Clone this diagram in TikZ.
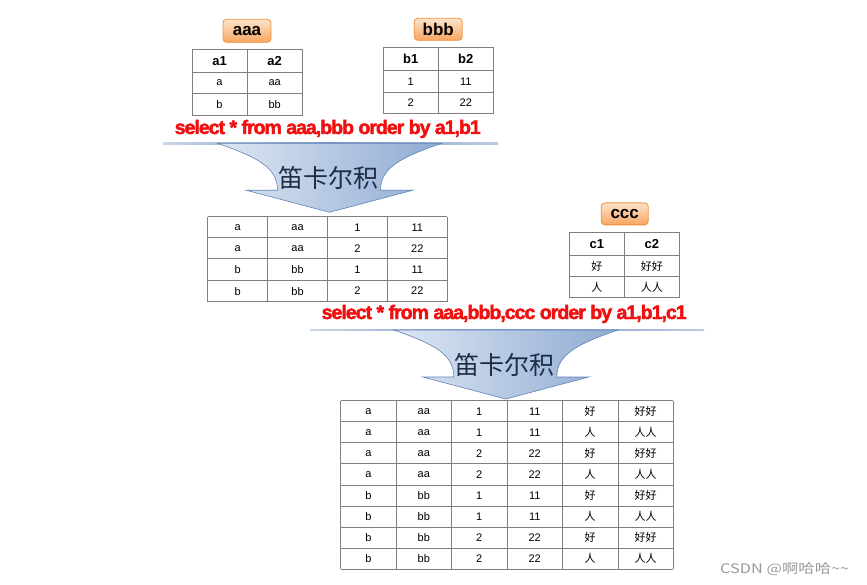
\documentclass[tikz,border=0pt]{standalone}
\usepackage{fontspec}
\setmainfont{Liberation Sans}
\newfontfamily\cjk{Noto Sans CJK SC}
\newfontfamily\sqlfont[FakeBold=2.2, LetterSpace=-5]{Liberation Sans Bold}
\definecolor{tabgray}{HTML}{7F7F7F}
\definecolor{lblborder}{HTML}{F0933F}
\definecolor{lbltop}{HTML}{FDE3CB}
\definecolor{lblbot}{HTML}{F8A660}
\definecolor{arrL}{HTML}{DCE6F2}
\definecolor{arrR}{HTML}{8FABD2}
\definecolor{arrline}{HTML}{5F84B8}
\definecolor{sepline}{HTML}{7A98C4}
\definecolor{carttext}{HTML}{1E2C48}
\definecolor{sqlred}{HTML}{F01010}
\definecolor{wmgray}{HTML}{9A9A9A}
\tikzset{
  grid line/.style={draw=tabgray, line width=0.9pt},
  lbl/.style={draw=lblborder, line width=0.8pt, rounded corners=3.5pt,
    top color=lbltop, bottom color=lblbot, inner sep=0pt,
    font=\fontsize{17}{19}\selectfont\bfseries},
  hd/.style={font=\fontsize{13}{15}\selectfont\bfseries, inner sep=0pt},
  cellt/.style={font=\fontsize{11}{13}\selectfont, inner sep=0pt},
  sql/.style={text=sqlred, inner sep=0pt, anchor=base},
  cart/.style={text=carttext, font=\fontsize{25}{27}\selectfont\cjk, inner sep=0pt},
  arrowfill/.style={left color=arrL, right color=arrR, draw=arrline, line width=0.6pt},
}
\newcommand{\cartarrow}[3]{%
  \path[arrowfill] (#2-112,#3) .. controls (#2-72,#3+14) and (#2-52,#3+24) .. (#2-52,#3+47)
    -- (#2-83,#3+47) -- (#2,#3+69) -- (#2+83,#3+47) -- (#2+51,#3+47)
    .. controls (#2+51,#3+24) and (#2+72,#3+14) .. (#2+112,#3) -- cycle;
  \node[cart] (#1) at (#2-1,#3+35) {笛卡尔积};
}
\begin{document}
\begin{tikzpicture}[x=1pt,y=-1pt]
\useasboundingbox[fill=white] (0,0) rectangle (867,585);

% ---------- table aaa ----------
\node[lbl, minimum width=48pt, minimum height=23pt] (aaa) at (247,30.8) {aaa};
\draw[grid line] (192,49.3) rectangle (302.5,115.3);
\draw[grid line] (247,49.3) -- (247,115.3);
\draw[grid line] (192,72.3) -- (302.5,72.3);
\draw[grid line] (192,93.8) -- (302.5,93.8);
\node[hd] (aaa-h1) at (219.5,61) {a1};
\node[hd] (aaa-h2) at (274.7,61) {a2};
\node[cellt] (aaa-11) at (219.5,83) {a};
\node[cellt] (aaa-12) at (274.7,83) {aa};
\node[cellt] (aaa-21) at (219.5,104.5) {b};
\node[cellt] (aaa-22) at (274.7,104.5) {bb};

% ---------- table bbb ----------
\node[lbl, minimum width=48pt, minimum height=22pt] (bbb) at (438.2,29.3) {bbb};
\draw[grid line] (383.3,47.3) rectangle (493.3,113.3);
\draw[grid line] (438.3,47.3) -- (438.3,113.3);
\draw[grid line] (383.3,70.7) -- (493.3,70.7);
\draw[grid line] (383.3,92.7) -- (493.3,92.7);
\node[hd] (bbb-h1) at (410.8,59) {b1};
\node[hd] (bbb-h2) at (465.8,59) {b2};
\node[cellt] (bbb-11) at (410.8,81.7) {1};
\node[cellt] (bbb-12) at (465.8,81.7) {11};
\node[cellt] (bbb-21) at (410.8,103) {2};
\node[cellt] (bbb-22) at (465.8,103) {22};

% ---------- first query ----------
\node[sql] (q1) at (327.8,134) {\resizebox{306pt}{!}{\sqlfont select * from aaa,bbb order by a1,b1}};
\shade[left color=sepline!40, right color=sepline!50, middle color=sepline] (163,142.5) rectangle (498,144.1);
\cartarrow{cart1}{329.5}{143.3}

% ---------- middle table ----------
\foreach \x in {207.7,267.7,327.7,387.7,447.3} \draw[grid line] (\x,216.7) -- (\x,301.7);
\foreach \y in {216.7,237.7,258.7,280.3,301.7} \draw[grid line] (207.7,\y) -- (447.3,\y);
\foreach \row [count=\r] in {{a,aa,1,11},{a,aa,2,22},{b,bb,1,11},{b,bb,2,22}}{
  \foreach \v [count=\c] in \row {
    \node[cellt] (m-\r-\c) at ({207.7+(\c-0.5)*59.9},{216.7+(\r-0.5)*21.25}) {\v};
  }
}

% ---------- table ccc ----------
\node[lbl, minimum width=47pt, minimum height=22pt] (ccc) at (624.7,213.9) {ccc};
\draw[grid line] (569.3,232.3) rectangle (679.3,297.3);
\draw[grid line] (624.3,232.3) -- (624.3,297.3);
\draw[grid line] (569.3,255.7) -- (679.3,255.7);
\draw[grid line] (569.3,276.7) -- (679.3,276.7);
\node[hd] (ccc-h1) at (596.8,244) {c1};
\node[hd] (ccc-h2) at (651.8,244) {c2};
\node[cellt, font=\fontsize{11}{13}\selectfont\cjk] (ccc-11) at (596.8,266.2) {好};
\node[cellt, font=\fontsize{11}{13}\selectfont\cjk] (ccc-12) at (651.8,266.2) {好好};
\node[cellt, font=\fontsize{11}{13}\selectfont\cjk] (ccc-21) at (596.8,287) {人};
\node[cellt, font=\fontsize{11}{13}\selectfont\cjk] (ccc-22) at (651.8,287) {人人};

% ---------- second query ----------
\node[sql] (q2) at (504.2,319) {\resizebox{365pt}{!}{\sqlfont select * from aaa,bbb,ccc order by a1,b1,c1}};
\shade[left color=sepline!40, right color=sepline!50, middle color=sepline] (310,329.2) rectangle (704,330.8);
\cartarrow{cart2}{505.8}{330}

% ---------- bottom table ----------
\foreach \x in {340.7,396.7,451.7,507.7,562.7,618.7,673.3} \draw[grid line] (\x,400.7) -- (\x,569.3);
\foreach \i in {0,...,8} \draw[grid line] (340.7,{400.7+\i*21.075}) -- (673.3,{400.7+\i*21.075});
\foreach \row [count=\r] in {
  {a,aa,1,11,{\cjk 好},{\cjk 好好}},
  {a,aa,1,11,{\cjk 人},{\cjk 人人}},
  {a,aa,2,22,{\cjk 好},{\cjk 好好}},
  {a,aa,2,22,{\cjk 人},{\cjk 人人}},
  {b,bb,1,11,{\cjk 好},{\cjk 好好}},
  {b,bb,1,11,{\cjk 人},{\cjk 人人}},
  {b,bb,2,22,{\cjk 好},{\cjk 好好}},
  {b,bb,2,22,{\cjk 人},{\cjk 人人}}}{
  \foreach \v [count=\c] in \row {
    \node[cellt] (b-\r-\c) at ({340.7+(\c-0.5)*55.43},{400.7+(\r-0.5)*21.075}) {\v};
  }
}

% ---------- watermark ----------
\node[anchor=west, inner sep=0pt, text=wmgray] (wm) at (720,569)
  {\resizebox{129pt}{11pt}{\fontsize{14}{16}\selectfont\cjk CSDN @啊哈哈\textasciitilde\textasciitilde}};
\end{tikzpicture}
\end{document}
